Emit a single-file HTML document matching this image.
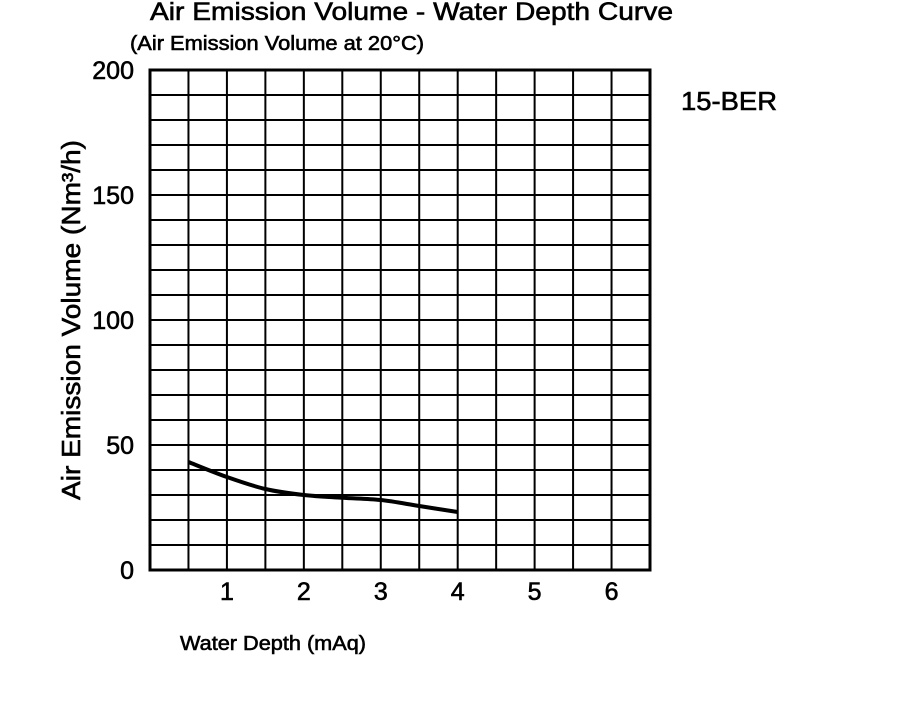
<!DOCTYPE html>
<html><head><meta charset="utf-8"><style>
body{margin:0;background:#fff;width:900px;height:700px;overflow:hidden}
svg{font-family:"Liberation Sans",sans-serif}
.b{stroke:#000;stroke-width:0.6}
</style></head><body>
<svg id="chart" width="900" height="700">
<text class="b" x="150" y="20" font-size="25" textLength="523" lengthAdjust="spacingAndGlyphs">Air Emission Volume - Water Depth Curve</text>
<text class="b" x="130" y="50" font-size="20" textLength="294" lengthAdjust="spacingAndGlyphs">(Air Emission Volume at 20°C)</text>
<text class="b" x="681" y="110" font-size="26" textLength="96" lengthAdjust="spacingAndGlyphs">15-BER</text>
<text class="b" x="180" y="650" font-size="20" textLength="186" lengthAdjust="spacingAndGlyphs">Water Depth (mAq)</text>
<text class="b" transform="translate(80,500) rotate(-90)" font-size="26" textLength="360" lengthAdjust="spacingAndGlyphs">Air Emission Volume (Nm³/h)</text>
<g id="grid"></g>
<g id="ticks"></g>
<g id="series"></g>
</svg>
<script>
const xTicks=[1,2,3,4,5,6];
const yTicks=[0,50,100,150,200];
const depth=[0.5,1,1.5,2,2.5,3,3.5,4];
const volume=[43.2,37.2,32.4,30,28.9,28,25.6,23.2];
const NS="http://www.w3.org/2000/svg";
const X0=150,X1=650,Y0=570,Y1=70,XMAX=6.5,YMAX=200;
const xs=v=>X0+v/XMAX*(X1-X0);
const ys=v=>Y0-v/YMAX*(Y0-Y1);
function mk(t,a,p){const e=document.createElementNS(NS,t);for(const k in a)e.setAttribute(k,a[k]);p.appendChild(e);return e;}
const grid=document.getElementById('grid');
for(let i=1;i<13;i++){const l=mk('line',{x1:xs(i*0.5),x2:xs(i*0.5),y1:Y1,y2:Y0,stroke:'#000','stroke-width':2},grid);

}
for(let i=1;i<20;i++){const l=mk('line',{x1:X0,x2:X1,y1:ys(i*10),y2:ys(i*10),stroke:'#000','stroke-width':2},grid);

}
const fr=mk('rect',{x:X0,y:Y1,width:X1-X0,height:Y0-Y1,fill:'none',stroke:'#000','stroke-width':3},grid);


const tk=document.getElementById('ticks');
xTicks.forEach(v=>{const t=mk('text',{x:xs(v),y:600,'font-size':25,'text-anchor':'middle','class':'b'},tk);t.textContent=v;

});
yTicks.forEach(v=>{const t=mk('text',{x:134,y:ys(v)+9,'font-size':25,'text-anchor':'end','class':'b'},tk);t.textContent=v;

});
const pts=depth.map((d,i)=>[xs(d),ys(volume[i])]);
let dstr='M'+pts[0][0]+','+pts[0][1];
for(let i=0;i<pts.length-1;i++){const p0=pts[i-1]||pts[i],p1=pts[i],p2=pts[i+1],p3=pts[i+2]||p2;
dstr+=' C'+(p1[0]+(p2[0]-p0[0])/6)+','+(p1[1]+(p2[1]-p0[1])/6)+' '+(p2[0]-(p3[0]-p1[0])/6)+','+(p2[1]-(p3[1]-p1[1])/6)+' '+p2[0]+','+p2[1];}
const path=mk('path',{d:dstr,fill:'none',stroke:'#000','stroke-width':4},document.getElementById('series'));


</script>
</body></html>
